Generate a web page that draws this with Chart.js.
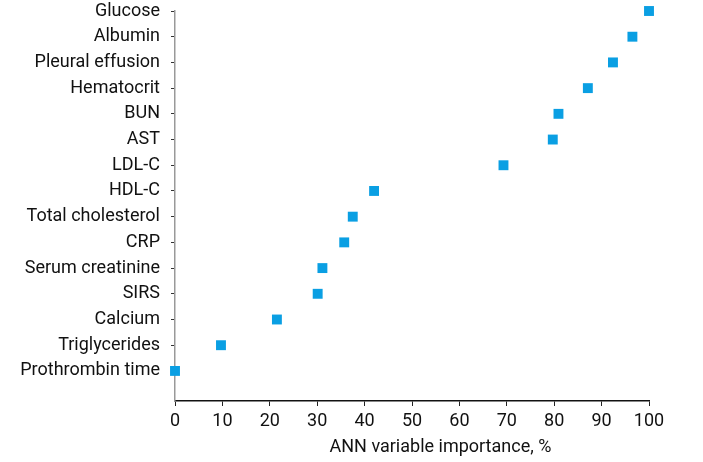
<!DOCTYPE html>
<html>
<head>
<meta charset="utf-8">
<script src="https://cdn.jsdelivr.net/npm/chart.js@4/dist/chart.umd.min.js"></script>
<style>
  body { margin: 0; background: #fff; }
  #wrap { width: 703px; height: 462px; }
</style>
</head>
<body>
<div id="wrap"><canvas id="chart"></canvas></div>
<script>
const categories = ['Glucose', 'Albumin', 'Pleural effusion', 'Hematocrit', 'BUN', 'AST', 'LDL-C', 'HDL-C',
  'Total cholesterol', 'CRP', 'Serum creatinine', 'SIRS', 'Calcium', 'Triglycerides', 'Prothrombin time'];
const importance = [100, 96.5, 92.4, 87.1, 80.9, 79.7, 69.3, 42.0, 37.5, 35.7, 31.1, 30.1, 21.5, 9.7, 0];
const xTicks = [0, 10, 20, 30, 40, 50, 60, 70, 80, 90, 100];
const xTitle = 'ANN variable importance, %';

const font = { family: 'Roboto, sans-serif', size: 18 };

// x title sits right of centre in the original, so draw it ourselves
const xTitlePlugin = {
  id: 'xTitle',
  afterDraw(chart) {
    const c = chart.ctx;
    const xs = chart.scales.x;
    c.save();
    c.font = '18px Roboto, sans-serif';
    c.fillStyle = '#111';
    c.textAlign = 'center';
    c.textBaseline = 'middle';
    c.fillText(xTitle, xs.getPixelForValue(56), 447);
    c.restore();
  }
};

const ctx = document.getElementById('chart').getContext('2d');
new Chart(ctx, {
  type: 'scatter',
  data: {
    datasets: [{
      data: importance.map((v, i) => ({ x: v, y: i })),
      backgroundColor: '#0a9fe3',
      borderWidth: 0,
      pointStyle: 'rect',
      pointRadius: 7,
      pointHoverRadius: 7,
      clip: false
    }]
  },
  plugins: [xTitlePlugin],
  options: {
    responsive: true,
    maintainAspectRatio: false,
    animation: false,
    layout: { padding: { top: 11, right: 54 } },
    plugins: { legend: { display: false }, tooltip: { enabled: false } },
    scales: {
      x: {
        type: 'linear',
        min: 0,
        max: 100,
        afterBuildTicks: (s) => { s.ticks = xTicks.map(v => ({ value: v })); },
        afterFit: (s) => { s.height = 61; s.paddingLeft = 0; s.paddingRight = 0; },
        grid: { drawOnChartArea: false, tickLength: 5, color: '#222' },
        border: { color: '#111', width: 1.5 },
        ticks: { color: '#111', font: font, padding: 5, maxRotation: 0 }
      },
      y: {
        type: 'linear',
        reverse: true,
        min: 0,
        max: 15.17,
        afterBuildTicks: (s) => { s.ticks = categories.map((_, i) => ({ value: i })); },
        afterFit: (s) => { s.width = 175; s.paddingTop = 0; s.paddingBottom = 0; },
        grid: { drawOnChartArea: false, tickLength: 4, color: '#333' },
        border: { color: '#999', width: 1.5 },
        ticks: { color: '#111', font: font, padding: 11, callback: (v) => categories[v] ?? '' }
      }
    }
  }
});
</script>
</body>
</html>
